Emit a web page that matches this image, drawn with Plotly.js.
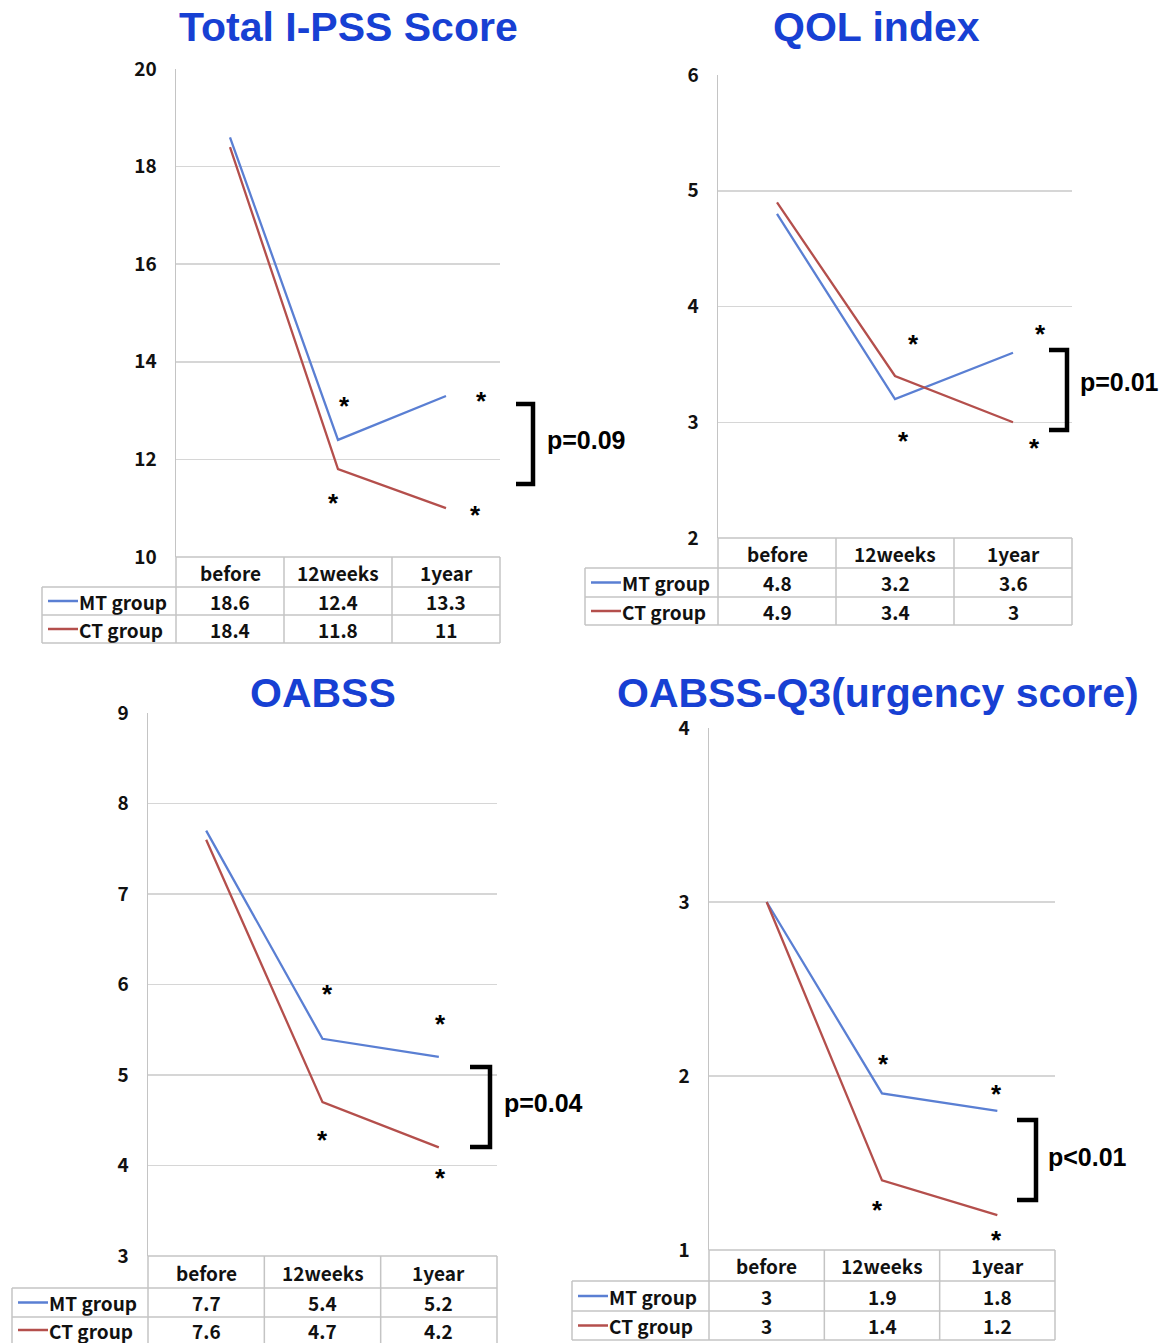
<!DOCTYPE html>
<html><head><meta charset="utf-8">
<script src="https://cdn.plot.ly/plotly-3.0.1.min.js"></script>
<style>body{margin:0;background:#fff}#chart{width:1165px;height:1343px}</style>
</head><body><div id="chart"></div>
<script>
// ---- data ----
const categories = ['before', '12weeks', '1year'];
const seriesNames = ['MT group', 'CT group'];
const ipssMT = [18.6, 12.4, 13.3];
const ipssCT = [18.4, 11.8, 11];
const qolMT = [4.8, 3.2, 3.6];
const qolCT = [4.9, 3.4, 3];
const oabssMT = [7.7, 5.4, 5.2];
const oabssCT = [7.6, 4.7, 4.2];
const q3MT = [3, 1.9, 1.8];
const q3CT = [3, 1.4, 1.2];
const panelTitles = ['Total I-PSS Score', 'QOL index', 'OABSS', 'OABSS-Q3(urgency score)'];
const pValues = ['p=0.09', 'p=0.01', 'p=0.04', 'p<0.01'];
const yRanges = [[10, 20], [2, 6], [3, 9], [1, 4]];
const yDticks = [2, 1, 1, 1];
const panelData = [[ipssMT, ipssCT], [qolMT, qolCT], [oabssMT, oabssCT], [q3MT, q3CT]];

// ---- layout (pixel positions) ----
const W = 1165, H = 1343;
const px = x => x / W;
const py = y => 1 - y / H;
const panels = [
  {x0:176,x1:500,y0:69,y1:557,tl:42,rows:[557,587,615,643],title:[348,27],br:[516,533,404,484],p:[545,440],stars:[[344,402],[481,397],[334,499],[476,511]]},
  {x0:718,x1:1072,y0:75,y1:538,tl:585,rows:[538,568,597,625],title:[876,27],br:[1049,1067,350,430],p:[1078,382],stars:[[913,340],[1040,330],[903,437],[1034,444]]},
  {x0:148,x1:497,y0:713,y1:1256,tl:12,rows:[1256,1288,1317,1345],title:[323,693],br:[470,490,1067,1147],p:[502,1103],stars:[[327,990],[440,1020],[322,1136],[440,1174]]},
  {x0:709,x1:1055,y0:728,y1:1250,tl:572,rows:[1250,1281,1311,1340],title:[878,693],br:[1017,1036,1120,1200],p:[1046,1157],stars:[[883,1060],[996,1090],[877,1206],[996,1236]]}
];
const colors = ['#5a7fd3', '#b44f4c'];
const tableFont = {family:'"Noto Sans CJK JP", "DejaVu Sans", sans-serif', size:19, color:'#111', weight:'bold'};
const tableLine = '#c4c4c4';

const traces = [];
const layout = {
  width: W, height: H, margin:{l:0,r:0,t:0,b:0},
  paper_bgcolor:'#fff', plot_bgcolor:'rgba(0,0,0,0)', showlegend:false,
  shapes:[], annotations:[]
};

panels.forEach((P, i) => {
  const n = i + 1;
  const xa = 'xaxis' + (n === 1 ? '' : n), ya = 'yaxis' + (n === 1 ? '' : n);
  const xr = 'x' + (n === 1 ? '' : n), yr = 'y' + (n === 1 ? '' : n);
  layout[xa] = {domain:[px(P.x0), px(P.x1)], anchor:yr, type:'category', range:[-0.5, 2.5],
    showticklabels:false, showgrid:false, zeroline:false, showline:false, ticks:'', fixedrange:true};
  layout[ya] = {domain:[py(P.y1), py(P.y0)], anchor:xr, range:yRanges[i], dtick:yDticks[i],
    showgrid:true, gridcolor:'#d6d6d6', gridwidth:1.5, zeroline:false, showline:true, linecolor:'#c4c4c4', linewidth:1.5,
    ticks:'', ticklabelstandoff:14, tickfont:{family:'"Noto Sans CJK JP", "DejaVu Sans", sans-serif', size:19, color:'#111', weight:'bold'}, fixedrange:true};
  panelData[i].forEach((vals, s) => {
    traces.push({type:'scatter', mode:'lines', x:categories, y:vals, xaxis:xr, yaxis:yr,
      line:{color:colors[s], width:2.3}, name:seriesNames[s], hoverinfo:'skip'});
  });
  // title
  layout.annotations.push({xref:'paper', yref:'paper', x:px(P.title[0]), y:py(P.title[1]), xanchor:'center', yanchor:'middle',
    text:'<b>' + panelTitles[i] + '</b>', showarrow:false, font:{family:'"Liberation Sans", Arial, sans-serif', size:41, color:'#1740d3'}});
  // table lines
  const w = (P.x1 - P.x0) / 3;
  const R = P.rows;
  const hline = (x0, x1, y) => layout.shapes.push({type:'line', xref:'paper', yref:'paper', x0:px(x0), x1:px(x1), y0:py(y), y1:py(y), line:{color:tableLine, width:1.5}});
  const vline = (x, y0, y1) => layout.shapes.push({type:'line', xref:'paper', yref:'paper', x0:px(x), x1:px(x), y0:py(y0), y1:py(y1), line:{color:tableLine, width:1.5}});
  hline(P.x0, P.x1, R[0]);
  hline(P.tl, P.x1, R[1]); hline(P.tl, P.x1, R[2]); hline(P.tl, P.x1, R[3]);
  vline(P.x0, R[0], R[3]); vline(P.x0 + w, R[0], R[3]); vline(P.x0 + 2*w, R[0], R[3]); vline(P.x1, R[0], R[3]);
  vline(P.tl, R[1], R[3]);
  // header
  categories.forEach((c, k) => {
    layout.annotations.push({xref:xr, yref:'paper', x:c, y:py((R[0]+R[1])/2), xanchor:'center', yanchor:'middle',
      text:c, showarrow:false, font:tableFont});
  });
  // rows
  panelData[i].forEach((vals, s) => {
    const yc = Math.min((R[s+1] + R[s+2]) / 2, 1330);
    layout.shapes.push({type:'line', xref:'paper', yref:'paper', x0:px(P.tl+6), x1:px(P.tl+36), y0:py(yc), y1:py(yc), line:{color:colors[s], width:2.5}});
    layout.annotations.push({xref:'paper', yref:'paper', x:px(P.tl+35), y:py(yc), xanchor:'left', yanchor:'middle',
      text:seriesNames[s], showarrow:false, font:tableFont});
    vals.forEach((v, k) => {
      layout.annotations.push({xref:xr, yref:'paper', x:categories[k], y:py(yc), xanchor:'center', yanchor:'middle',
        text:String(v), showarrow:false, font:tableFont});
    });
  });
  // bracket
  const b = P.br;
  layout.shapes.push({type:'path', xref:'paper', yref:'paper',
    path:`M ${px(b[0])} ${py(b[2])} L ${px(b[1])} ${py(b[2])} L ${px(b[1])} ${py(b[3])} L ${px(b[0])} ${py(b[3])}`,
    line:{color:'#000', width:4.5}});
  layout.annotations.push({xref:'paper', yref:'paper', x:px(P.p[0]), y:py(P.p[1]), xanchor:'left', yanchor:'middle',
    text:'<b>' + pValues[i] + '</b>', showarrow:false, font:{family:'"Liberation Sans", Arial, sans-serif', size:25, color:'#000'}});
  // significance stars
  P.stars.forEach(st => {
    layout.annotations.push({xref:'paper', yref:'paper', x:px(st[0]), y:py(st[1] + 4), xanchor:'center', yanchor:'middle',
      text:'<b>*</b>', showarrow:false, font:{family:'"Liberation Sans", Arial, sans-serif', size:26, color:'#000'}});
  });
});

Plotly.newPlot('chart', traces, layout, {staticPlot:true, displayModeBar:false});
</script>
</body></html>
